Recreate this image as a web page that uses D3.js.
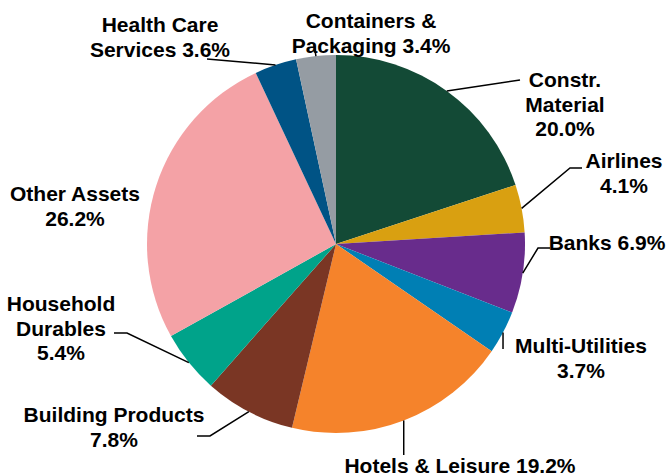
<!DOCTYPE html>
<html>
<head>
<meta charset="utf-8">
<script src="https://cdn.jsdelivr.net/npm/d3@7"></script>
<style>
  body { margin: 0; background: #fff; }
  text { font-family: "Liberation Sans", Arial, sans-serif; font-weight: bold; font-size: 21px; fill: #000; }
</style>
</head>
<body>
<div id="canvas"></div>
<script>
const width = 666, height = 475;
const cx = 336, cy = 244, radius = 189;

// slices, clockwise from 12 o'clock
const sectors = ["Constr. Material", "Airlines", "Banks", "Multi-Utilities", "Hotels & Leisure",
  "Building Products", "Household Durables", "Other Assets", "Health Care Services", "Containers & Packaging"];
const shares = [20.0, 4.1, 6.9, 3.7, 19.2, 7.8, 5.4, 26.2, 3.6, 3.4];
const colors = ["#134a36", "#d9a011", "#682c8c", "#007fb4", "#f5832b",
  "#7a3624", "#00a38a", "#f4a2a6", "#005385", "#959ca3"];

// how each label is broken into lines
const labelLines = [
  ["Constr.", "Material", "20.0%"],
  ["Airlines", "4.1%"],
  ["Banks 6.9%"],
  ["Multi-Utilities", "3.7%"],
  ["Hotels & Leisure 19.2%"],
  ["Building Products", "7.8%"],
  ["Household", "Durables", "5.4%"],
  ["Other Assets", "26.2%"],
  ["Health Care", "Services 3.6%"],
  ["Containers &", "Packaging 3.4%"]
];

// label placement: text centre x, first baseline y, leader line points after the arc edge
const layout = [
  { x: 565, y: 87, path: [[520, 80]] },
  { x: 624, y: 168, path: [[570, 168], [582, 168]] },
  { x: 607, y: 250, path: [[538, 248], [550, 248]] },
  { x: 581, y: 353, path: [[null, 349]] },
  { x: 460, y: 473, path: [[null, 455]] },
  { x: 114, y: 422, path: [[210, 436], [197, 436]] },
  { x: 61, y: 311, path: [[127, 333], [114, 333]] },
  { x: 75, y: 201, path: null },
  { x: 160, y: 32, path: [[207, 59]] },
  { x: 371, y: 28, path: [[314, 44]] }
];
const lineH = 24.5;

const svg = d3.select("#canvas").append("svg")
  .attr("width", width)
  .attr("height", height);

const pie = d3.pie().sort(null).value(d => d);
const arcs = pie(shares);
const arc = d3.arc().innerRadius(0).outerRadius(radius);

const g = svg.append("g").attr("transform", `translate(${cx},${cy})`);
g.selectAll("path")
  .data(arcs)
  .join("path")
  .attr("d", arc)
  .attr("fill", (d, i) => colors[i]);

// leader lines, starting on the outer edge at the middle of each slice
const line = d3.line();
arcs.forEach((a, i) => {
  const lay = layout[i];
  if (!lay.path) return;
  const mid = (a.startAngle + a.endAngle) / 2;
  const sx = cx + radius * Math.sin(mid), sy = cy - radius * Math.cos(mid);
  const pts = [[sx, sy]].concat(lay.path.map(p => [p[0] == null ? sx : p[0], p[1]]));
  svg.append("path")
    .attr("d", line(pts))
    .attr("fill", "none")
    .attr("stroke", "#000")
    .attr("stroke-width", 1.5);
});

// labels
labelLines.forEach((lines, i) => {
  const t = svg.append("text")
    .attr("text-anchor", "middle")
    .attr("x", layout[i].x)
    .attr("y", layout[i].y);
  lines.forEach((s, j) => {
    t.append("tspan")
      .attr("x", layout[i].x)
      .attr("dy", j == 0 ? 0 : lineH)
      .text(s);
  });
});
</script>
</body>
</html>
